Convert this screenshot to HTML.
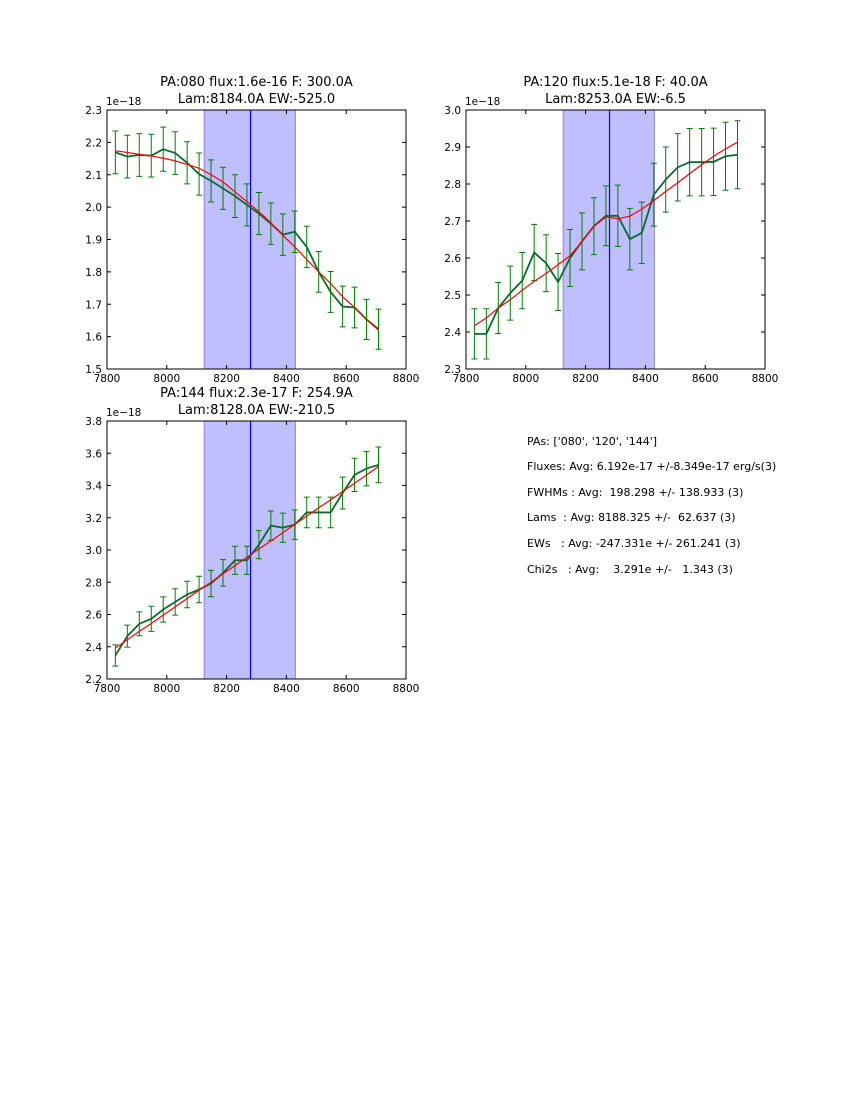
<!DOCTYPE html>
<html><head><meta charset="utf-8">
<style>
html,body{margin:0;padding:0;background:#fff;}
svg{display:block;font-family:"DejaVu Sans","Liberation Sans",sans-serif;}
.pre{white-space:pre;}
</style></head>
<body>
<svg id="fig" width="850" height="1100" xmlns="http://www.w3.org/2000/svg">
<rect width="850" height="1100" fill="#fff"/>
<g font-size="11" fill="#000">
<text class="pre" x="527" y="445">PAs: ['080', '120', '144']</text>
<text class="pre" x="527" y="470">Fluxes: Avg: 6.192e-17 +/-8.349e-17 erg/s(3)</text>
<text class="pre" x="527" y="496">FWHMs : Avg:  198.298 +/- 138.933 (3)</text>
<text class="pre" x="527" y="521">Lams  : Avg: 8188.325 +/-  62.637 (3)</text>
<text class="pre" x="527" y="547">EWs   : Avg: -247.331e +/- 261.241 (3)</text>
<text class="pre" x="527" y="573">Chi2s   : Avg:    3.291e +/-   1.343 (3)</text>
</g>
</svg>
<script>
const lam = [7828,7868,7908,7948,7988,8028,8068,8108,8148,8188,8228,8268,8308,8348,8388,8428,8468,8508,8548,8588,8628,8668,8708];
const obs1 = [2.169,2.156,2.161,2.159,2.179,2.167,2.137,2.102,2.081,2.058,2.034,2.007,1.980,1.949,1.915,1.924,1.877,1.800,1.738,1.693,1.690,1.653,1.623];
const fit1 = [2.174,2.169,2.163,2.158,2.151,2.143,2.132,2.120,2.100,2.078,2.047,2.017,1.986,1.952,1.913,1.877,1.838,1.800,1.764,1.723,1.690,1.653,1.620];
const err1 = [0.066,0.066,0.066,0.066,0.068,0.066,0.065,0.065,0.065,0.065,0.066,0.065,0.065,0.064,0.064,0.064,0.064,0.063,0.063,0.063,0.063,0.062,0.062];
const obs2 = [2.395,2.395,2.465,2.505,2.539,2.615,2.586,2.535,2.600,2.645,2.686,2.714,2.714,2.651,2.668,2.771,2.812,2.845,2.859,2.859,2.860,2.875,2.879];
const fit2 = [2.417,2.438,2.465,2.487,2.513,2.537,2.558,2.582,2.606,2.645,2.686,2.711,2.706,2.713,2.732,2.755,2.780,2.803,2.828,2.852,2.875,2.895,2.913];
const err2 = [0.068,0.068,0.069,0.073,0.076,0.076,0.077,0.077,0.077,0.077,0.077,0.081,0.083,0.083,0.083,0.085,0.088,0.091,0.091,0.091,0.091,0.092,0.092];
const obs3 = [2.346,2.466,2.542,2.573,2.631,2.678,2.724,2.755,2.792,2.858,2.936,2.936,3.033,3.151,3.138,3.157,3.233,3.233,3.233,3.353,3.466,3.505,3.528];
const fit3 = [2.392,2.443,2.495,2.544,2.596,2.647,2.699,2.750,2.800,2.852,2.903,2.955,3.006,3.056,3.107,3.159,3.210,3.262,3.311,3.363,3.414,3.466,3.518];
const err3 = [0.066,0.068,0.074,0.078,0.078,0.082,0.082,0.082,0.082,0.082,0.087,0.087,0.087,0.091,0.091,0.091,0.095,0.095,0.095,0.099,0.103,0.107,0.111];
const xTicks = [7800,8000,8200,8400,8600,8800];
const yTicks1 = [1.5,1.6,1.7,1.8,1.9,2.0,2.1,2.2,2.3];
const yTicks2 = [2.3,2.4,2.5,2.6,2.7,2.8,2.9,3.0];
const yTicks3 = [2.2,2.4,2.6,2.8,3.0,3.2,3.4,3.6,3.8];
const shade = [8125,8430];
const lineCenter = [8280];
const titles1 = ["PA:080 flux:1.6e-16 F: 300.0A","Lam:8184.0A EW:-525.0"];
const titles2 = ["PA:120 flux:5.1e-18 F: 40.0A","Lam:8253.0A EW:-6.5"];
const titles3 = ["PA:144 flux:2.3e-17 F: 254.9A","Lam:8128.0A EW:-210.5"];

const NS="http://www.w3.org/2000/svg";
const fig=document.getElementById('fig');
function mk(tag,attrs,parent){const e=document.createElementNS(NS,tag);for(const k in attrs)e.setAttribute(k,attrs[k]);parent.appendChild(e);return e;}

function panel(name,L,T,W,H,ymin,ymax,yt,obs,fit,err,titles){
  const g=mk('g',{},fig);
  
  
  const xs=v=>L+(v-7800)/1000*W;
  const ys=v=>T+H-(v-ymin)/(ymax-ymin)*H;
  const sh=mk('rect',{x:xs(shade[0]),y:T,width:xs(shade[1])-xs(shade[0]),height:H,fill:'#bfbfff',stroke:'#8888cc','stroke-width':1},g);
  
  
  const cl=mk('line',{x1:xs(lineCenter[0]),x2:xs(lineCenter[0]),y1:T,y2:T+H,stroke:'#0000ff','stroke-width':1.2},g);
  
  
  for(let i=0;i<lam.length;i++){
    const x=xs(lam[i]),y1=ys(obs[i]-err[i]),y2=ys(obs[i]+err[i]);
    const eb=mk('path',{d:`M${x},${y1}V${y2}M${x-3},${y1}H${x+3}M${x-3},${y2}H${x+3}`,stroke:'#008000','stroke-width':1,fill:'none'},g);
    
    
  }
  const po=mk('polyline',{points:lam.map((v,i)=>xs(v)+','+ys(obs[i])).join(' '),fill:'none',stroke:'#0a6b2c','stroke-width':1.8},g);
  
  
  const pf=mk('polyline',{points:lam.map((v,i)=>xs(v)+','+ys(fit[i])).join(' '),fill:'none',stroke:'#ff0000','stroke-width':1.2},g);
  
  
  const fr=mk('rect',{x:L,y:T,width:W,height:H,fill:'none',stroke:'#000','stroke-width':1},g);
  
  
  xTicks.forEach(t=>{
    const x=xs(t);
    const tk=mk('path',{d:`M${x},${T+H}v-4M${x},${T}v4`,stroke:'#000','stroke-width':1},g);
    
    
    const tl=mk('text',{x:x,y:T+H+13,'font-size':10.5,'text-anchor':'middle'},g);
    tl.textContent=t;
    
    
  });
  yt.forEach(t=>{
    const y=ys(t);
    const tk=mk('path',{d:`M${L},${y}h4M${L+W},${y}h-4`,stroke:'#000','stroke-width':1},g);
    
    
    const tl=mk('text',{x:L-5,y:y+4,'font-size':10.5,'text-anchor':'end'},g);
    tl.textContent=t.toFixed(1);
    
    
  });
  const off=mk('text',{x:L-1,y:T-5,'font-size':10.5},g);
  off.textContent='1e\u221218';
  
  
  titles.forEach((s,k)=>{
    const tt=mk('text',{x:L+W/2,y:T-24+k*17,'font-size':13,'text-anchor':'middle'},g);
    tt.textContent=s;
    
    
  });
}
panel('panel-pa080',107,110,299,259,1.5,2.3,yTicks1,obs1,fit1,err1,titles1);
panel('panel-pa120',466,110,299,259,2.3,3.0,yTicks2,obs2,fit2,err2,titles2);
panel('panel-pa144',107,421,299,258,2.2,3.8,yTicks3,obs3,fit3,err3,titles3);
</script>
</body></html>
